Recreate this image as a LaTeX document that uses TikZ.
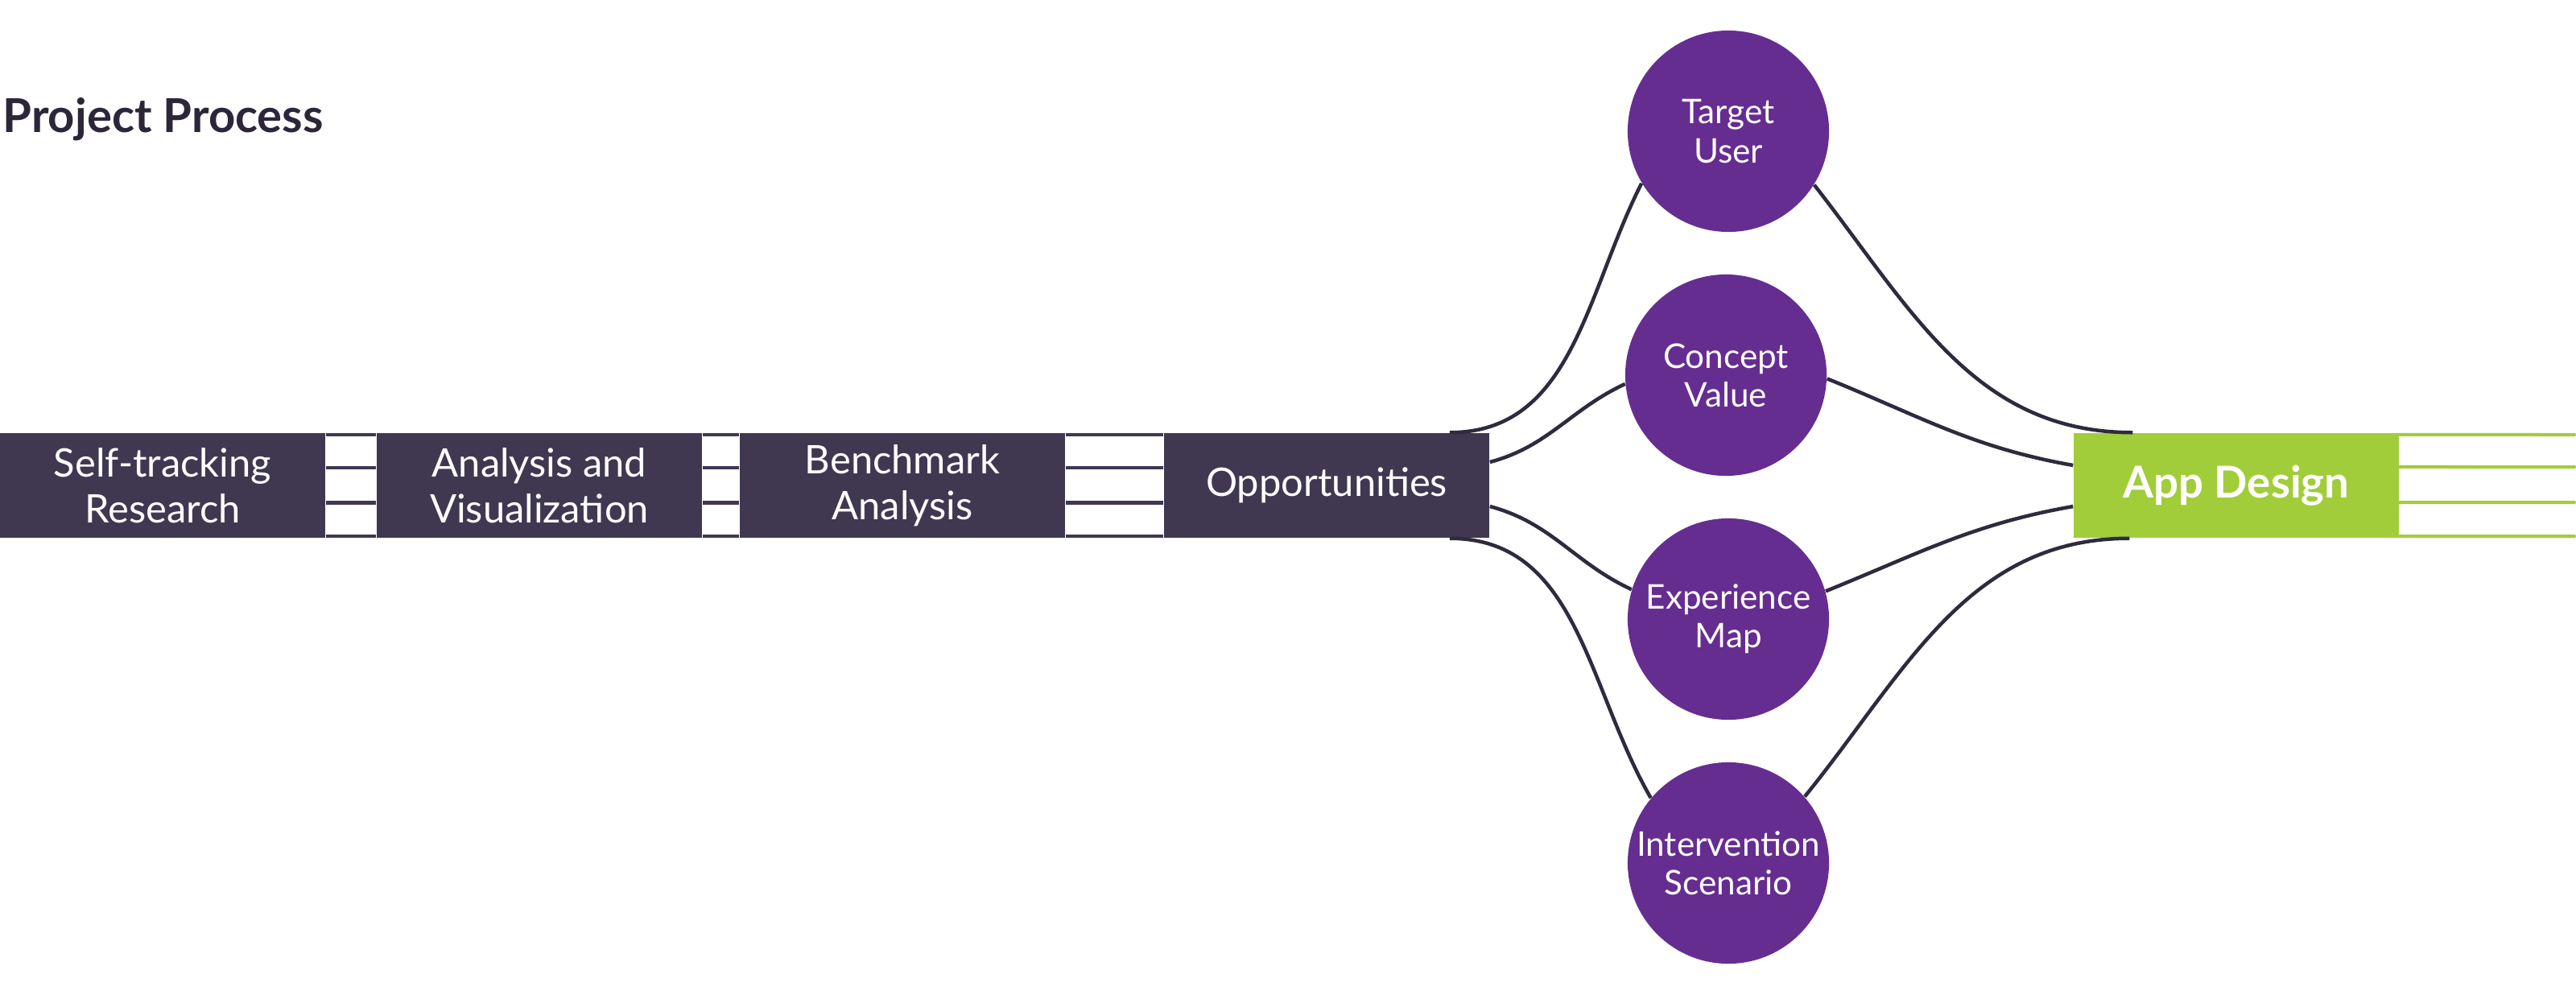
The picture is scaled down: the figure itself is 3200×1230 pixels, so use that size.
\documentclass[tikz,border=0pt]{standalone}
\usepackage{fontspec}
\setmainfont{Lato}
\definecolor{barc}{HTML}{403851}
\definecolor{purp}{HTML}{662D91}
\definecolor{grn}{HTML}{A2CD3A}
\definecolor{linec}{HTML}{2F2A3D}
\definecolor{titlec}{HTML}{2D2639}
\begin{document}
\begin{tikzpicture}[x=0.01cm,y=-0.01cm,
  stagebox/.style={fill=barc, text=white, minimum width=4.04cm, minimum height=1.3cm, inner sep=0pt, align=center, font=\fontsize{13.9}{16.3}\selectfont},
  circnode/.style={circle, fill=purp, text=white, minimum size=2.5cm, inner sep=0pt, align=center, font=\fontsize{12}{13.7}\selectfont},
  appbox/.style={fill=grn, text=white, minimum width=4.04cm, minimum height=1.3cm, inner sep=0pt, align=center, font=\fontsize{15.5}{18}\selectfont\bfseries},
  stripline/.style={draw=barc, line width=0.045cm},
  greenline/.style={draw=grn, line width=0.04cm, line cap=round},
  conn/.style={draw=linec, line width=0.045cm}]
\useasboundingbox (0,0) rectangle (3200,1230);

% title
\node[anchor=base west, inner sep=0pt, text=titlec, font=\fontsize{16.5}{20}\selectfont\bfseries] (title) at (3,164) {Project Process};

% stage boxes
\node[stagebox] (b1) at (202,603) {Self-tracking\\Research};
\node[stagebox] (b2) at (670,603) {Analysis and\\Visualization};
\node[stagebox] (b3) at (1121,603) {Benchmark\\Analysis};
\node[stagebox] (b4) at (1648,603) {Opportunities};

% strips between boxes
\foreach \a/\b in {b1/b2, b2/b3, b3/b4} {
  \foreach \s in {0.63cm, 0.22cm, -0.215cm, -0.63cm} {
    \draw[stripline] ([yshift=\s]\a.east) -- ([yshift=\s]\b.west);
  }
}

% circles
\node[circnode] (c1) at (2147,163) {Target\\User};
\node[circnode] (c2) at (2144,466) {Concept\\Value};
\node[circnode] (c3) at (2147,769) {Experience\\Map};
\node[circnode] (c4) at (2147,1072) {Intervention\\Scenario};

% app design
\node[appbox] (ad) at (2778,603) {App Design};
\coordinate (g1) at (3198,540);
\coordinate (g2) at (3198,580);
\coordinate (g3) at (3198,624);
\coordinate (g4) at (3198,666);
\draw[greenline] ([yshift=0.63cm]ad.east) -- (g1);
\draw[greenline] ([yshift=0.23cm]ad.east) -- (g2);
\draw[greenline] ([yshift=-0.21cm]ad.east) -- (g3);
\draw[greenline] ([yshift=-0.63cm]ad.east) -- (g4);

% connectors
\draw[conn] ([xshift=-0.5cm]b4.north east) to[out=0,in=243] (c1.211);
\draw[conn] ([yshift=0.29cm]b4.east) to[out=15,in=205] (c2.185);
\draw[conn] ([yshift=-0.26cm]b4.east) to[out=-15,in=155] (c3.163);
\draw[conn] ([xshift=-0.5cm]b4.south east) to[out=0,in=120] (c4.140);
\draw[conn] (c1.328) to[out=-52,in=180] ([xshift=0.74cm]ad.north west);
\draw[conn] (c2.-2) to[out=-22,in=170] ([yshift=0.25cm]ad.west);
\draw[conn] (c3.16) to[out=22,in=190] ([yshift=-0.26cm]ad.west);
\draw[conn] (c4.41) to[out=51,in=180] ([xshift=0.7cm]ad.south west);
\end{tikzpicture}
\end{document}
